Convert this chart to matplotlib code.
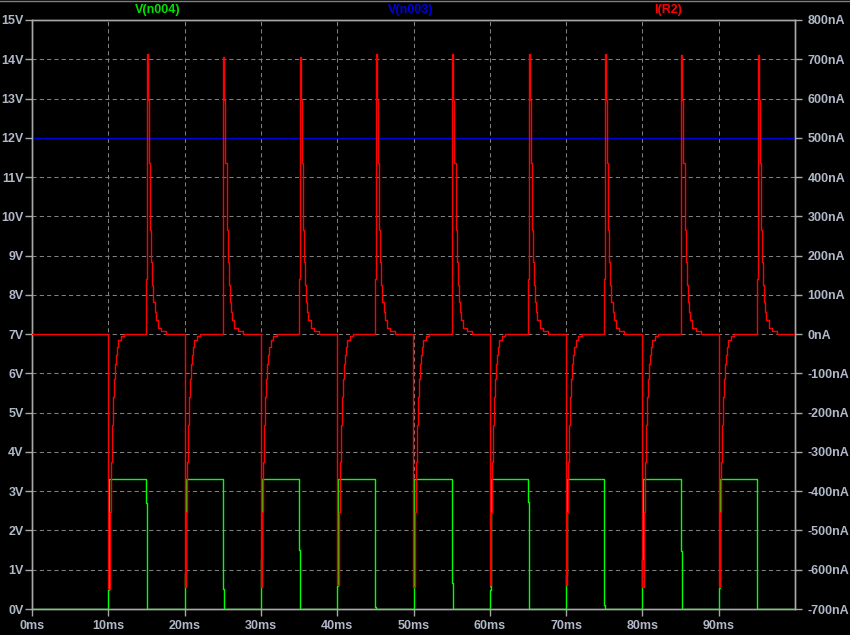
import numpy as np
import matplotlib
matplotlib.use('Agg')
import matplotlib.pyplot as plt
from matplotlib.lines import Line2D

# pulse edges of V(n004), ms
rise_ms = [10, 20, 30, 40, 50, 60, 70, 80, 90]
fall_ms = [15, 25, 35, 45, 55, 65, 75, 85, 95]
v_high = 3.3
# intermediate sample on each edge, V
rise_mid = [0.48, 0.92, 1.27, 0.58, 2.19, 0.48, 0.87, 1.27, 0.53]
fall_mid = [2.7, 0.5, 1.5, 0.05, 0.66, 2.73, 0.1, 1.48, 0.0]
v_n003 = 12.0

# I(R2) spike peaks, nA
neg_peak = [-650, -645, -645, -640, -645, -640, -640, -645, -645]
pos_peak = [714, 707, 707, 714, 714, 714, 714, 712, 712]
# recovery after the rising edge (offset ms, nA)
neg_off = [0.0, 0.175, 0.31, 0.44, 0.57, 0.70, 0.83, 0.96, 1.09, 1.27, 1.62, 2.05]
neg_val = [-645, -453, -326, -232, -161, -113, -75, -54, -33, -16, -5, 0]
# decay after the falling edge (offset ms, nA)
pos_off = [0.0, 0.087, 0.22, 0.35, 0.52, 0.66, 0.79, 0.92, 1.09, 1.22, 1.53, 1.97, 2.62]
pos_val = [140, 714, 596, 435, 264, 183, 124, 81, 56, 35, 15, 8, 0]

x_ticks = [0, 10, 20, 30, 40, 50, 60, 70, 80, 90]
v_ticks = list(range(0, 16))
i_ticks = list(range(-700, 801, 100))

fg = '#b0b8c8'
frame = '#a8a8a8'
font = 'Liberation Sans'
fsize = 9

# build V(n004)
gt, gv = [0.0], [0.0]
for r, f, rm, fm in zip(rise_ms, fall_ms, rise_mid, fall_mid):
    gt += [r, r + 0.13, f, f + 0.13]
    gv += [rm, v_high, fm, 0.0]
gt.append(100.0)
gv.append(0.0)

# build I(R2)
it, iv = [0.0], [0.0]
for k in range(len(rise_ms)):
    vals = list(neg_val)
    vals[0] = neg_peak[k]
    it += [rise_ms[k] + o for o in neg_off]
    iv += vals
    vals = list(pos_val)
    vals[1] = pos_peak[k]
    it += [fall_ms[k] + o for o in pos_off]
    iv += vals
it.append(100.0)
iv.append(0.0)

fig = plt.figure(figsize=(8.5, 6.35), dpi=100, facecolor='black')
ax = fig.add_axes([32 / 850, 26 / 635, 763 / 850, 589 / 635])
ax.set_facecolor('black')
ax2 = ax.twinx()

ax.plot(gt, gv, color='#00ff00', lw=1.0, drawstyle='steps-post', zorder=3)
ax.axhline(v_n003, color='#0000d8', lw=1.0, zorder=3)
ax2.plot(it, iv, color='#ff0000', lw=1.0, drawstyle='steps-post', zorder=4)

ax.set_xlim(0, 100)
ax.set_ylim(0, 15)
ax2.set_ylim(-700, 800)

ax.set_xticks(x_ticks)
ax.set_xticklabels(['%dms' % t for t in x_ticks])
ax.set_yticks(v_ticks)
ax.set_yticklabels(['%dV' % v for v in v_ticks])
ax2.set_yticks(i_ticks)
ax2.set_yticklabels(['%dnA' % i for i in i_ticks])

for t in x_ticks[1:]:
    ax.axvline(t, color='#808080', lw=0.75, ls=(0, (4, 3)), zorder=1)
for v in v_ticks[1:-1]:
    ax.axhline(v, color='#808080', lw=0.75, ls=(0, (4, 3)), zorder=1)

for a in (ax, ax2):
    for s in a.spines.values():
        s.set_color(frame)
        s.set_linewidth(1.0)
    a.tick_params(colors=frame, width=1.0, length=5)
ax.tick_params(axis='y', pad=1)
ax.tick_params(axis='x', pad=3)
ax2.tick_params(axis='y', pad=4)
for lab in ax.get_xticklabels() + ax.get_yticklabels() + ax2.get_yticklabels():
    lab.set_color(fg)
    lab.set_fontfamily(font)
    lab.set_fontweight('bold')
    lab.set_fontsize(fsize)

fig.text(158 / 850, 1 - 10 / 635, 'V(n004)', color='#00e000', ha='center', va='center',
         fontsize=fsize, fontweight='bold', family=font)
fig.text(411 / 850, 1 - 10 / 635, 'V(n003)', color='#0000e0', ha='center', va='center',
         fontsize=fsize, fontweight='bold', family=font)
fig.text(668 / 850, 1 - 10 / 635, 'I(R2)', color='#ff0000', ha='center', va='center',
         fontsize=fsize, fontweight='bold', family=font)

fig.add_artist(Line2D([0, 1], [0.999, 0.999], color='#808080', lw=1.0,
                      transform=fig.transFigure))

fig.savefig('out.png', dpi=100, facecolor='black')
